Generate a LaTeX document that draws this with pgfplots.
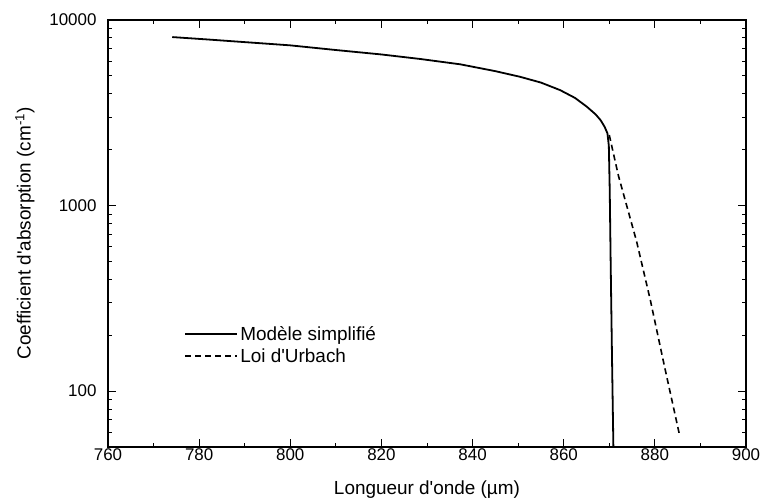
\documentclass[border=0pt]{standalone}
\usepackage{pgfplots}
\pgfplotsset{compat=1.18}
\usepackage{fontspec}
\setmainfont{Liberation Sans}

\begin{document}
\begin{tikzpicture}[font=\fontsize{17}{20}\selectfont]
\begin{axis}[
	scale only axis,
	width=638bp, height=427bp,
	xmin=760, xmax=900,
	ymin=50, ymax=10000,
	ymode=log,
	xtick={760,780,...,900},
	minor x tick num=1,
	ytick={100,1000,10000},
	yticklabels={100,1000,10000},
	minor ytick={60,70,80,90,200,300,400,500,600,700,800,900,2000,3000,4000,5000,6000,7000,8000,9000},
	tick align=inside,
	major tick length=8bp,
	minor tick length=4bp,
	tick style={black, line width=1bp},
	axis line style={line width=1.5bp},
	/pgf/number format/assume math mode=true,
	/pgf/number format/1000 sep={},
	xticklabel style={yshift=2bp},
	yticklabel style={xshift=-8bp},
	xlabel={Longueur d\textquotesingle onde (µm)},
	ylabel={Coefficient d\textquotesingle absorption (cm\textsuperscript{-1})},
	label style={font=\fontsize{19}{22}\selectfont},
	xlabel style={yshift=-13bp},
	ylabel style={yshift=8bp},
	legend style={draw=none, fill=none, at={(0.115,0.293)}, anchor=north west,
		row sep=3bp, font=\fontsize{19}{22}\selectfont},
	legend cell align=left,
	legend image code/.code={\draw[#1] (0bp,0bp) -- (52bp,0bp);},
]
\addplot[black, line width=1.8bp] coordinates {
	(774.1,8090) (782,7850) (790,7600) (800,7300) (810,6890) (820,6520) (828.5,6165)
	(837.3,5770) (845,5300) (850.4,4943) (855,4600) (859.2,4190) (862.5,3800)
	(865.1,3405) (867,3100) (868.1,2884) (869.0,2650) (869.6,2448)
	(869.9,2100) (870.1,1200) (870.3,500) (870.6,150) (870.9,50)
};
\addlegendentry{Modèle simplifié}
\addplot[black, line width=1.6bp, dash pattern=on 6bp off 4bp] coordinates {
	(870,2400) (872,1450) (876,640) (879,310) (882,140) (885.35,59)
};
\addlegendentry{Loi d\textquotesingle Urbach}
\end{axis}
\pgfresetboundingbox
\path[use as bounding box] (current axis.south west) ++(-108bp,-57bp) rectangle ++(763bp,504bp);
\end{tikzpicture}
\end{document}
